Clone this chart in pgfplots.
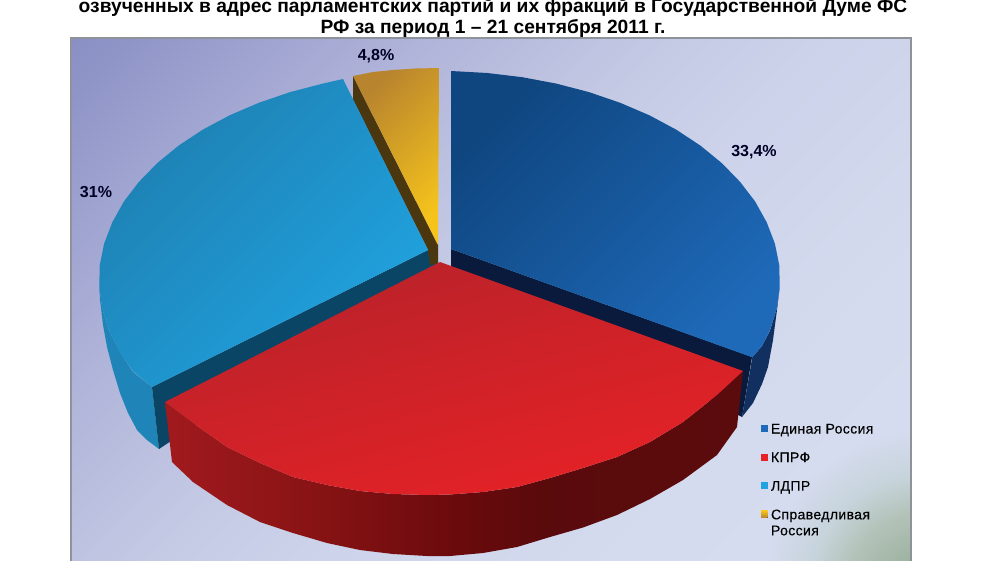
\documentclass[border=0pt]{standalone}
\usepackage{pgfplots}
\pgfplotsset{compat=1.18}
\usepackage{fontspec}
\setmainfont{Liberation Sans}
\newfontface\legfont{Liberation Sans}[FakeBold=0.3,LetterSpace=2.7]
\definecolor{cBlue}{HTML}{1E69B8}
\definecolor{cBlueM}{HTML}{0D5499}
\definecolor{cBlueA}{HTML}{0F4680}
\definecolor{cRed}{HTML}{E62226}
\definecolor{cRedM}{HTML}{DF2127}
\definecolor{cRedA}{HTML}{B8222A}
\definecolor{cCyan}{HTML}{20A3E0}
\definecolor{cCyanA}{HTML}{1E80B2}
\definecolor{cYel}{HTML}{E0AE28}
\definecolor{cYelA}{HTML}{B8842E}
\definecolor{cYelB}{HTML}{F5C31C}
\definecolor{cWallA}{HTML}{1F85B8}
\definecolor{cWallB}{HTML}{0B4566}
\definecolor{cWallC}{HTML}{4A360F}
\definecolor{cWallD}{HTML}{0A1A3C}
\definecolor{cWallE}{HTML}{11305F}
\definecolor{cBorder}{HTML}{8F9298}
\pgfdeclareverticalshading{bgsh}{100bp}{rgb(0bp)=(.84,.865,.94);rgb(14.6bp)=(.84,.865,.94);rgb(30bp)=(.835,.859,.933);rgb(45.6bp)=(.80,.827,.918);rgb(53.5bp)=(.773,.796,.898);rgb(67.7bp)=(.686,.702,.851);rgb(85.4bp)=(.54,.56,.77);rgb(100bp)=(.54,.56,.77)}
\pgfdeclareradialshading{corner}{\pgfpoint{0bp}{0bp}}{rgb(0bp)=(.56,.66,.57);rgb(12bp)=(.70,.76,.72);rgb(18bp)=(.78,.83,.86);rgb(25bp)=(.835,.86,.935);rgb(50bp)=(.835,.86,.935)}
\pgfdeclarehorizontalshading{redwall}{100bp}{rgb(0bp)=(.63,.10,.115);rgb(25bp)=(.63,.10,.115);rgb(36bp)=(.55,.08,.085);rgb(50bp)=(.42,.04,.05);rgb(58bp)=(.35,.04,.045);rgb(75bp)=(.36,.045,.05);rgb(100bp)=(.36,.045,.05)}
\pgfplotsset{poly/.style={draw=none,forget plot}}
\begin{document}
\begin{tikzpicture}
\clip (0pt,0pt) rectangle (1000pt,560pt);
\begin{axis}[
  scale only axis,width=1000pt,height=560pt,
  xmin=0,xmax=1000,ymin=0,ymax=560,y dir=reverse,hide axis,
  legend style={at={(axis cs:761,423.5)},anchor=north west,draw=none,fill=none,
    font=\fontsize{14}{16}\legfont,inner sep=0pt,outer sep=0pt,row sep=15.6pt,
    nodes={inner sep=0pt,outer sep=0pt,text height=10pt,text depth=3pt}},
  legend cell align=left,
  legend image code/.code={\fill[#1,draw=none] (0pt,-2pt) rectangle (6.5pt,5pt);\path[draw=none,fill=none] (0pt,0pt) -- (10pt,0pt);},
]
% background
\addplot[poly,shading=bgsh,shading angle=45] coordinates {(71,38)(911,38)(911,560)(71,560)} --cycle;
\addplot[poly,shading=corner] coordinates {(765,590)(777.2,528.8)(811.9,476.9)(863.8,442.2)(925,430)(986.2,442.2)(1038.1,476.9)(1072.8,528.8)(1085,590)(1072.8,651.2)(1038.1,703.1)(986.2,737.8)(925,750)(863.8,737.8)(811.9,703.1)(777.2,651.2)} --cycle;
\addplot[poly,fill=white] coordinates {(911,360)(1000,360)(1000,570)(911,570)} --cycle;
\addplot[forget plot,draw=cBorder,line width=2pt] coordinates {(71,565)(71,38)(911,38)(911,565)};
% walls
\addplot[poly,fill=cWallA] coordinates {(99.3,287)(102.4,309)(109.2,331)(119.4,351)(133,372)(152,387)(159,449)(147,440)(137,430)(128,413)(120,393)(113,370)(107,347)(103,325)(100,300)} --cycle;
\addplot[poly,fill=cWallB] coordinates {(428,250)(152,387)(159,449)(168,443)(440,265)} --cycle;
\addplot[poly,fill=cWallC] coordinates {(353,76)(438,245)(438,263)(430,265)(428,250)(353,100)} --cycle;
\addplot[poly,fill=cWallD] coordinates {(451,249)(451,270)(742,417)(752,357)} --cycle;
\addplot[poly,fill=cWallE] coordinates {(779.7,287)(776.6,309)(769.8,331)(762,346)(752.3,357.3)(742,417)(753,403)(762,384)(768,367)(773,340)(777,310)} --cycle;
% tops
\addplot[poly,top color=cBlueA,middle color=cBlueM,bottom color=cBlue,shading angle=45] coordinates {(451,71)(487.3,73)(522.3,77.2)(556.3,83.6)(589,92.1)(620.2,102.8)(649.4,115.3)(676.3,129.7)(700.4,145.6)(721.9,163.2)(740.2,182)(755.2,201.6)(766.7,222.3)(774.9,243.6)(779.3,265.4)(779.7,287.3)(776.6,309.1)(769.8,330.6)(762,346)(752.3,357.3)(451,249)} --cycle;
\addplot[poly,top color=cCyanA,bottom color=cCyan,shading angle=45] coordinates {(343,79)(322.7,83.6)(290.1,92.1)(258.8,102.8)(229.6,115.3)(202.7,129.7)(178.6,145.6)(157.1,163.2)(138.8,182)(123.8,201.6)(112.3,222.3)(104.1,243.6)(99.7,265.4)(99.3,287.3)(102.4,309.1)(109.2,330.6)(119.4,351.5)(133.3,371.6)(152,387)(428,250)} --cycle;
\addplot[poly,top color=cYelA,bottom color=cYelB,shading angle=45] coordinates {(353,76)(373,72)(393,70)(415,68.5)(439,68)(438,245)} --cycle;
\addplot[poly,shading=redwall] coordinates {(165,402)(193,423)(227,447)(260,463)(293,477)(327,485)(360,491)(393,494)(427,495)(450,494.5)(483,492)(517,487)(550,478)(583,468)(617,457)(650,442)(683,422)(717,395)(743,371)(737,427)(717,455)(683,480)(650,499)(617,515)(583,527.5)(550,537)(517,547)(483,553)(450,556)(427,556)(393,554)(360,550)(327,543)(293,533)(260,522)(227,505)(193,482)(172,462)} --cycle;
\addplot[poly,top color=cRedA,middle color=cRedM,bottom color=cRed,shading angle=15] coordinates {(440,262)(743,371)(717,395)(683,422)(650,442)(617,457)(583,468)(550,478)(517,487)(483,492)(450,494.5)(427,495)(393,494)(360,491)(327,485)(293,477)(260,463)(227,447)(193,423)(165,402)} --cycle;
% legend
\addlegendimage{fill=cBlue}\addlegendentry{Единая Россия}
\addlegendimage{fill=cRed}\addlegendentry{КПРФ}
\addlegendimage{fill=cCyan}\addlegendentry{ЛДПР}
\addlegendimage{top color=cYelB,bottom color=cYelA}\addlegendentry{\begin{tabular}[t]{@{}l@{}}Справедливая\\Россия\end{tabular}}
% texts
\node[anchor=base,font=\fontsize{19.2}{21}\selectfont\bfseries] at (axis cs:493,12) {озвученных в адрес парламентских партий и их фракций в Государственной Думе ФС};
\node[anchor=base,font=\fontsize{19.2}{21}\selectfont\bfseries] at (axis cs:493,33) {РФ за период 1 – 21 сентября 2011 г.};
\node[font=\fontsize{16}{18}\selectfont\bfseries,text=black!85!blue] at (axis cs:754,152) {33,4\%};
\node[font=\fontsize{16}{18}\selectfont\bfseries,text=black!85!blue] at (axis cs:96,192) {31\%};
\node[font=\fontsize{16}{18}\selectfont\bfseries,text=black!85!blue] at (axis cs:376,56) {4,8\%};
\end{axis}
\end{tikzpicture}
\end{document}
